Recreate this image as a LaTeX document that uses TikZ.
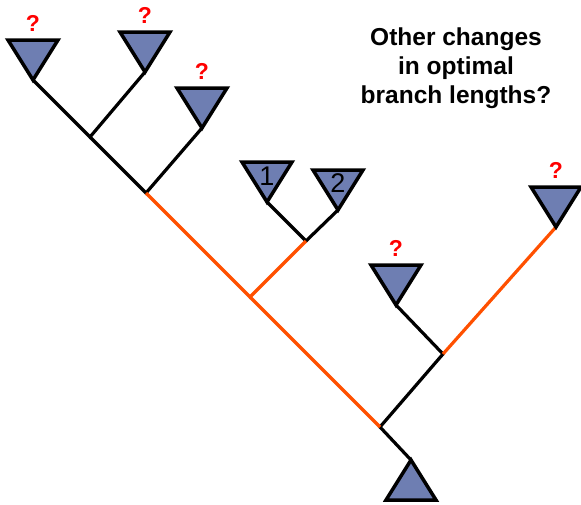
\documentclass[tikz,border=0pt]{standalone}
\usepackage{fontspec}
\setmainfont{Liberation Sans}
\usetikzlibrary{positioning,calc}
\definecolor{cladeblue}{RGB}{110,126,178}
\definecolor{moveorange}{RGB}{255,80,0}
\tikzset{clade/.pic={
  \draw[line width=3.5pt,fill=cladeblue,line join=miter] (0,0) -- (-25,-40) -- (25,-40) -- cycle;
  \coordinate (-top) at (0,-40);
}}

\begin{document}
\begin{tikzpicture}[
  x=1pt, y=-1pt,
  branch/.style={line width=3.2pt},
  moved/.style={branch,draw=moveorange},
  query/.style={text=red,font=\bfseries\fontsize{23}{23}\selectfont,inner sep=0pt},
  tipnum/.style={font=\fontsize{27}{27}\selectfont,inner sep=0pt},
  note/.style={align=center,font=\bfseries\fontsize{24.5}{29}\selectfont}
  ]
  \useasboundingbox (0,0) rectangle (581,504);
  % tips
  \coordinate (A) at (33,80);
  \coordinate (B) at (145,72);
  \coordinate (C) at (202,128);
  \coordinate (P1) at (267,202);
  \coordinate (P2) at (338,210);
  \coordinate (D) at (396,305);
  \coordinate (E) at (556,227);
  \coordinate (R) at (411,460);
  % internal nodes
  \coordinate (AB) at (90,137);
  \coordinate (ABC) at (146,193);
  \coordinate (P12) at (306,241);
  \coordinate (MID) at (250,297);
  \coordinate (DE) at (443,354);
  \coordinate (TOP) at (380,427);

  \draw[branch] (A) -- (AB) -- (B);
  \draw[branch] (AB) -- (ABC) -- (C);
  \draw[branch] (P1) -- (P12) -- (P2);
  \draw[branch] (D) -- (DE) -- (TOP) -- (R);
  \draw[moved] (ABC) -- (MID) -- (P12);
  \draw[moved] (MID) -- (TOP);
  \draw[moved] (DE) -- (E);

  \pic (cA) at (A) {clade};
  \pic (cB) at (B) {clade};
  \pic (cC) at (C) {clade};
  \pic (cP1) at (P1) {clade};
  \pic (cP2) at (P2) {clade};
  \pic (cD) at (D) {clade};
  \pic (cE) at (E) {clade};
  \pic[rotate=180] (cR) at (R) {clade};

  \node[tipnum] (N1) at ($(cP1-top)+(0,14)$) {1};
  \node[tipnum] (N2) at ($(cP2-top)+(0,13)$) {2};

  \node[query] (qA) [above=8pt of cA-top] {?};
  \node[query] (qB) [above=8pt of cB-top] {?};
  \node[query] (qC) [above=8pt of cC-top] {?};
  \node[query] (qD) [above=8pt of cD-top] {?};
  \node[query] (qE) [above=8pt of cE-top] {?};

  \node[note] (Q) at (456,68) {Other changes\\in optimal\\branch lengths?};
\end{tikzpicture}
\end{document}
